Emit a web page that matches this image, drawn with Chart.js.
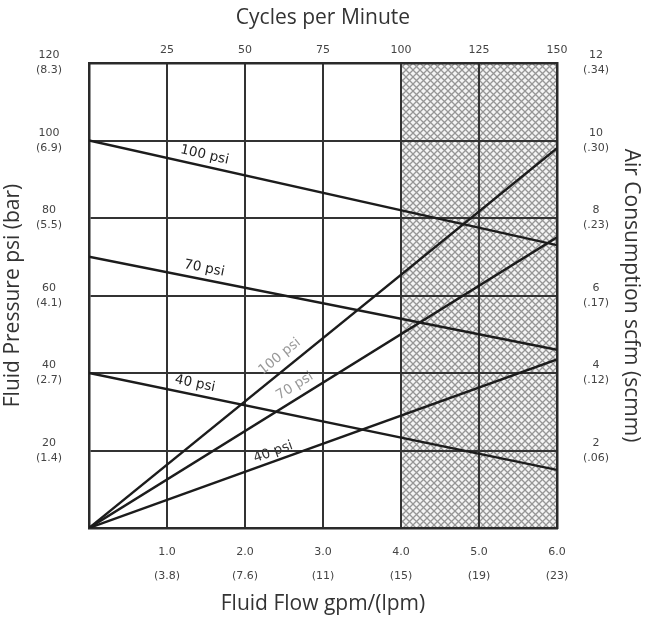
<!DOCTYPE html>
<html>
<head>
<meta charset="utf-8">
<script src="https://cdn.jsdelivr.net/npm/chart.js@4.4.0/dist/chart.umd.min.js"></script>
<style>
  html, body { margin: 0; padding: 0; background: #ffffff; }
  #wrap { width: 647px; height: 618px; }
</style>
</head>
<body>
<div id="wrap"><canvas id="c" width="647" height="618"></canvas></div>
<script>
// ---------- DATA ----------
// Fluid flow (gpm) end points of each line
const flowPoints = [0, 6];
// Fluid pressure (psi) vs flow, for each air pressure
const pressure100 = [100, 73];
const pressure70  = [70, 46];
const pressure40  = [40, 15];
// Air consumption (scfm) vs flow, for each air pressure
const air100 = [0, 9.8];
const air70  = [0, 7.5];
const air40  = [0, 4.35];

// Tick labels
const flowTicks   = [1, 2, 3, 4, 5, 6];
const flowGpm     = ['1.0', '2.0', '3.0', '4.0', '5.0', '6.0'];
const flowLpm     = ['(3.8)', '(7.6)', '(11)', '(15)', '(19)', '(23)'];
const cycleTicks  = [25, 50, 75, 100, 125, 150];
const pressTicks  = [20, 40, 60, 80, 100, 120];
const pressBar    = ['(1.4)', '(2.7)', '(4.1)', '(5.5)', '(6.9)', '(8.3)'];
const airTicks    = [2, 4, 6, 8, 10, 12];
const airScmm     = ['(.06)', '(.12)', '(.17)', '(.23)', '(.30)', '(.34)'];

// Line labels: dataset index, anchor flow value, text
const lineLabels = [
  { ds: 0, at: 1.45, text: '100 psi' },
  { ds: 1, at: 1.45, text: '70 psi' },
  { ds: 2, at: 1.33, text: '40 psi' },
  { ds: 3, at: 2.55, text: '100 psi' },
  { ds: 4, at: 2.72, text: '70 psi' },
  { ds: 5, at: 2.4,  text: '40 psi' }
];
// Shaded flow range
const shadedRange = [4, 6];

// ---------- STYLE ----------
const labelStyle = [
  { color: '#222', off: 11 },
  { color: '#222', off: 11 },
  { color: '#222', off: 11 },
  { color: '#9a9a9a', off: 13 },
  { color: '#9a9a9a', off: 12 },
  { color: '#333', off: 9 }
];

function pts(ys) { return flowPoints.map((x, i) => ({ x: x, y: ys[i] })); }
function ds(ys, axis) {
  return { data: pts(ys), yAxisID: axis, borderColor: '#1c1c1c', borderWidth: 2.4,
           pointRadius: 0, showLine: true, fill: false, tension: 0 };
}

function makeHatch() {
  const n = 7;
  const p = document.createElement('canvas');
  p.width = n; p.height = n;
  const g = p.getContext('2d');
  g.fillStyle = '#f4f4f4';
  g.fillRect(0, 0, n, n);
  g.strokeStyle = '#969696';
  g.lineWidth = 1.3;
  g.beginPath();
  g.moveTo(0, 0); g.lineTo(n, n);
  g.moveTo(n, 0); g.lineTo(0, n);
  g.stroke();
  return p;
}

const hatchPlugin = {
  id: 'hatch',
  beforeDraw(chart) {
    const { ctx, chartArea, scales } = chart;
    const x0 = scales.x.getPixelForValue(shadedRange[0]);
    const x1 = scales.x.getPixelForValue(shadedRange[1]);
    ctx.save();
    ctx.fillStyle = ctx.createPattern(makeHatch(), 'repeat');
    ctx.fillRect(x0, chartArea.top, x1 - x0, chartArea.bottom - chartArea.top);
    ctx.restore();
  }
};

const labelPlugin = {
  id: 'lineLabels',
  afterDatasetsDraw(chart) {
    const { ctx, scales } = chart;
    lineLabels.forEach((l, i) => {
      const d = chart.data.datasets[l.ds];
      const ys = scales[d.yAxisID];
      const a = d.data[0], b = d.data[1];
      const ax = scales.x.getPixelForValue(a.x), ay = ys.getPixelForValue(a.y);
      const bx = scales.x.getPixelForValue(b.x), by = ys.getPixelForValue(b.y);
      const t = (l.at - a.x) / (b.x - a.x);
      const yv = a.y + t * (b.y - a.y);
      const px = scales.x.getPixelForValue(l.at), py = ys.getPixelForValue(yv);
      const ang = Math.atan2(by - ay, bx - ax);
      const st = labelStyle[i];
      const nx = Math.sin(ang) * st.off, ny = -Math.cos(ang) * st.off;
      ctx.save();
      ctx.translate(px + nx, py + ny);
      ctx.rotate(ang);
      ctx.font = '13.5px "DejaVu Sans"';
      ctx.fillStyle = st.color;
      ctx.textAlign = 'center';
      ctx.textBaseline = 'middle';
      ctx.fillText(l.text, 0, 0);
      ctx.restore();
    });
  }
};

const tickFont = { family: '"DejaVu Sans"', size: 11 };
const titleFont = { family: '"Open Sans"', size: 21 };
const border = { display: true, color: '#2a2a2a', width: 2.5 };

new Chart(document.getElementById('c'), {
  type: 'scatter',
  data: {
    datasets: [
      ds(pressure100, 'y'), ds(pressure70, 'y'), ds(pressure40, 'y'),
      ds(air100, 'y2'), ds(air70, 'y2'), ds(air40, 'y2')
    ]
  },
  options: {
    responsive: false,
    animation: false,
    devicePixelRatio: 1,
    layout: { padding: 0 },
    plugins: { legend: { display: false }, tooltip: { enabled: false } },
    scales: {
      x: {
        type: 'linear', position: 'bottom', min: 0, max: 6,
        afterFit: s => { s.height = 90; },
        grid: { color: '#333', lineWidth: 2, drawTicks: false },
        border: border,
        ticks: {
          stepSize: 1, color: '#444', padding: 12, maxRotation: 0,
          font: Object.assign({ lineHeight: 2.2 }, tickFont),
          callback: v => { const i = flowTicks.indexOf(v); return i < 0 ? '' : [flowGpm[i], flowLpm[i]]; }
        },
        title: { display: true, text: 'Fluid Flow gpm/(lpm)', color: '#333', font: titleFont, padding: { top: 0, bottom: 1 } }
      },
      x2: {
        type: 'linear', position: 'top', min: 0, max: 150,
        afterFit: s => { s.height = 63; },
        grid: { display: false, drawTicks: false },
        border: border,
        ticks: {
          stepSize: 25, color: '#444', padding: 6, maxRotation: 0, font: tickFont,
          callback: v => cycleTicks.indexOf(v) < 0 ? '' : String(v)
        },
        title: { display: true, text: 'Cycles per Minute', color: '#333', font: titleFont, padding: { top: 5, bottom: 0 } }
      },
      y: {
        type: 'linear', position: 'left', min: 0, max: 120,
        afterFit: s => { s.width = 89; },
        grid: { color: '#333', lineWidth: 2, drawTicks: false },
        border: border,
        ticks: {
          stepSize: 20, color: '#444', padding: 27, crossAlign: 'center',
          font: Object.assign({ lineHeight: 1.35 }, tickFont),
          callback: v => { const i = pressTicks.indexOf(v); return i < 0 ? '' : [String(v), pressBar[i]]; }
        },
        title: { display: true, text: 'Fluid Pressure psi (bar)', color: '#333', font: titleFont, padding: { top: 0, bottom: 0 } }
      },
      y2: {
        type: 'linear', position: 'right', min: 0, max: 12,
        afterFit: s => { s.width = 90; },
        grid: { display: false, drawTicks: false },
        border: border,
        ticks: {
          stepSize: 2, color: '#444', padding: 26, crossAlign: 'center',
          font: Object.assign({ lineHeight: 1.35 }, tickFont),
          callback: v => { const i = airTicks.indexOf(v); return i < 0 ? '' : [String(v), airScmm[i]]; }
        },
        title: { display: true, text: 'Air Consumption scfm (scmm)', color: '#333', font: titleFont, padding: { top: 3, bottom: 0 } }
      }
    }
  },
  plugins: [hatchPlugin, labelPlugin]
});
</script>
</body>
</html>
